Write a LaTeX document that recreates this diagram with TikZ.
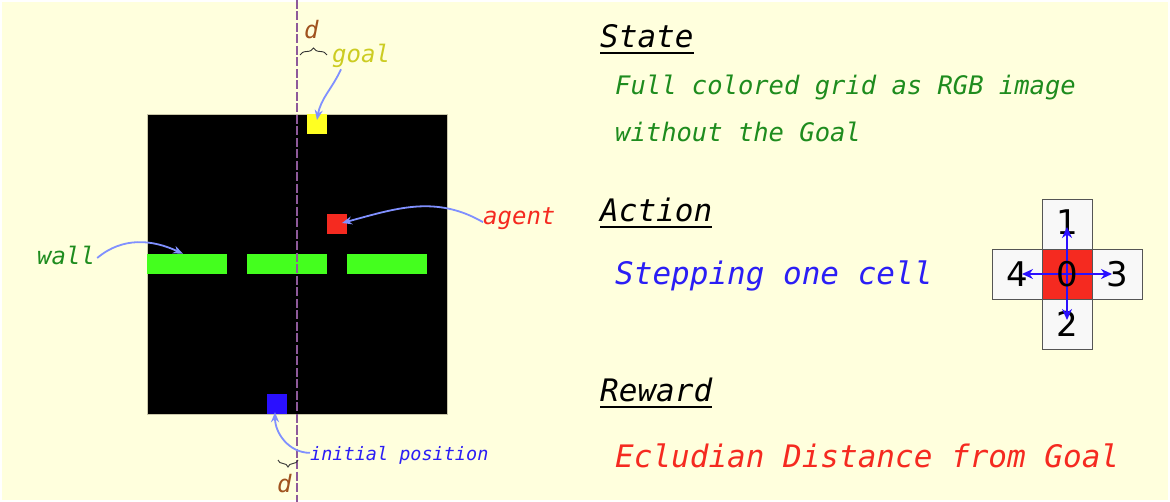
\documentclass[tikz,border=0pt]{standalone}
\usepackage{fontspec}
\usetikzlibrary{arrows.meta,decorations.pathreplacing}
\newfontfamily\monofnt{DejaVu Sans Mono}
\newfontfamily\digfnt{DejaVu Sans}
\definecolor{bgyellow}{HTML}{FFFFDD}
\definecolor{txtgreen}{HTML}{1E8C1E}
\definecolor{txtred}{HTML}{F52A20}
\definecolor{txtblue}{HTML}{2B1EF5}
\definecolor{goaltxt}{HTML}{CCCC22}
\definecolor{arrowblue}{HTML}{8090FF}
\definecolor{dashpurple}{HTML}{8E5A9A}
\definecolor{dbrown}{HTML}{A0521E}
\definecolor{cellyellow}{HTML}{FFFF22}
\definecolor{cellred}{HTML}{F52A20}
\definecolor{wallgreen}{HTML}{44FF1E}
\definecolor{cellblue}{HTML}{2A10FF}
\definecolor{cellgrey}{HTML}{F8F8F8}
\definecolor{cellborder}{HTML}{555555}
\tikzset{
  txt/.style={inner sep=0pt, anchor=base west, font=\monofnt\itshape\fontsize{#1}{#1}\selectfont},
  gcell/.style={inner sep=0pt, minimum size=20pt, draw=none},
  wallseg/.style={inner sep=0pt, minimum width=80pt, minimum height=20pt, fill=wallgreen},
  conn/.style={draw=arrowblue, line width=1.8pt, -{Stealth[length=10pt,width=8pt]}},
  acell/.style={inner sep=0pt, minimum size=50pt, draw=cellborder, line width=0.9pt, fill=cellgrey,
    font=\digfnt\fontsize{34}{34}\selectfont},
  aarrow/.style={draw=cellblue, line width=2.5pt, -{Stealth[length=11pt,width=10pt]}},
  ulin/.style={line width=1.8pt, black},
  brc/.style={draw=black!80, line width=0.9pt, decorate, decoration={brace, amplitude=7pt}},
}
\begin{document}
\begin{tikzpicture}[x=1pt,y=1pt]
\useasboundingbox (0,0) rectangle (1170,-502);
\fill[white] (0,0) rectangle (1170,-502);
\fill[bgyellow] (2,-2) rectangle (1168,-500);

% grid world
\node[fill=black, draw=black!60!yellow!40, line width=0.5pt, minimum size=300pt, inner sep=0pt, anchor=north west] (grid) at (147,-114) {};
\node[gcell, fill=cellyellow] (goal) at (317,-124) {};
\node[gcell, fill=cellred] (agent) at (337,-224) {};
\node[gcell, fill=cellblue] (init) at (277,-404) {};
\node[wallseg] (wall1) at (187,-264) {};
\node[wallseg] (wall2) at (287,-264) {};
\node[wallseg] (wall3) at (387,-264) {};

% dashed line
\coordinate (dtop) at (297,0);
\coordinate (dbot) at (297,-502);
\draw[dashpurple, line width=1.6pt, dash pattern=on 9pt off 2.5pt] (dtop) -- (dbot);

% braces and d
\coordinate (b1a) at (300,-55);
\coordinate (b1b) at (327,-55);
\draw[brc] (b1a) -- (b1b);
\node[txt=24, dbrown] (dup) at (304,-39) {d};
\coordinate (b2a) at (298,-460);
\coordinate (b2b) at (278,-460);
\draw[brc] (b2a) -- (b2b);
\node[txt=24, dbrown] (ddown) at (277,-492) {d};

% labels
\node[txt=24, goaltxt] (goallbl) at (332,-63) {goal};
\node[txt=24, txtred] (agentlbl) at (483,-225) {agent};
\node[txt=24, txtgreen] (walllbl) at (37,-265) {wall};
\node[txt=18.5, txtblue] (initlbl) at (310,-460) {initial position};

\draw[conn] ([xshift=9pt,yshift=-1pt]goallbl.south west) to[out=-115, in=80] ([yshift=4pt]goal.center);
\draw[conn] ([yshift=-3pt]agentlbl.west) to[out=150, in=15] ([xshift=5pt,yshift=1pt]agent.center);
\draw[conn] ([xshift=2pt,yshift=-2pt]walllbl.east) to[out=40, in=155] ([xshift=-4pt]wall1.north);
\draw[conn] ([yshift=2pt]initlbl.west) to[out=180, in=-90] ([xshift=-2pt,yshift=2pt]init.south);

% right side texts
\node[txt=31] (state) at (600,-48) {State};
\draw[ulin] ([yshift=-5pt]state.base west) -- ([yshift=-5pt]state.base east);
\node[txt=25.5, txtgreen] (state1) at (615,-95) {Full colored grid as RGB image};
\node[txt=25.5, txtgreen] (state2) at (615,-142) {without the Goal};

\node[txt=31] (action) at (600,-222) {Action};
\draw[ulin] ([yshift=-5pt]action.base west) -- ([yshift=-5pt]action.base east);
\node[txt=31, txtblue] (actiondesc) at (615,-285) {Stepping one cell};

\node[txt=31] (reward) at (600,-402) {Reward};
\draw[ulin] ([yshift=-5pt]reward.base west) -- ([yshift=-5pt]reward.base east);
\node[txt=31, txtred] (rewarddesc) at (615,-467) {Ecludian Distance from Goal};

% action cross
\node[acell] (c1) at (1067,-224) {\raisebox{4pt}{1}};
\node[acell] (c2) at (1067,-324) {2};
\node[acell] (c4) at (1017,-274) {4};
\node[acell] (c3) at (1117,-274) {3};
\node[acell, fill=cellred] (c0) at (1067,-274) {};
\draw[aarrow] (c0.center) -- ([yshift=-3pt]c1.center);
\draw[aarrow] (c0.center) -- ([yshift=4pt]c2.center);
\draw[aarrow] (c0.center) -- ([xshift=5pt]c4.center);
\draw[aarrow] (c0.center) -- ([xshift=-5pt]c3.center);
\node[inner sep=0pt, font=\digfnt\fontsize{34}{34}\selectfont] (zero) at (c0.center) {0};
\end{tikzpicture}
\end{document}
